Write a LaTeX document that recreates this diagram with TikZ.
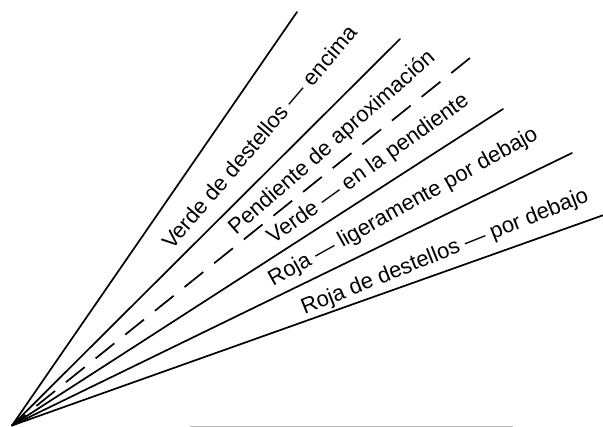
\documentclass[tikz,border=0pt]{standalone}
\usepackage{fontspec}
\setmainfont{Liberation Sans}
\begin{document}
\begin{tikzpicture}[x=1pt,y=1pt,
  ray/.style={line width=1.7pt, line cap=round},
  dashray/.style={line width=1.7pt, dash pattern=on 24pt off 14pt},
  lbl/.style={font=\fontsize{22}{26}\selectfont, inner sep=0pt, anchor=center},
  scanline/.style={line width=0.8pt, draw=gray!55}]
\useasboundingbox (0,0) rectangle (603,427);
\coordinate (O) at (12,1.5);
\coordinate (e1) at (297,415);
\coordinate (e2) at (400,388);
\coordinate (e3) at (470,369);
\coordinate (e4) at (503,318);
\coordinate (e5) at (572,274);
\coordinate (e6) at (615,216);
\coordinate (b1) at (190,0.6);
\coordinate (b2) at (513,0.6);
\draw[scanline] (b1) -- (b2);
\draw[ray] (O) -- (e1);
\draw[ray] (O) -- (e2);
\draw[dashray] (e3) -- (O);
\draw[ray] (O) -- (e4);
\draw[ray] (O) -- (e5);
\draw[ray] (O) -- (e6);
\node[lbl, rotate=49.4] (t1) at ([shift={(49.4:380)}]O) {Verde de destellos — encima};
\node[lbl, rotate=41.4] (t2) at ([shift={(41.4:427)}]O) {Pendiente de aproximación};
\node[lbl, rotate=35.7] (t3) at ([shift={(35.7:439)}]O) {Verde — en la pendiente};
\node[lbl, rotate=29.1] (t4) at ([shift={(29.1:448)}]O) {Roja — ligeramente por debajo};
\node[lbl, rotate=21.8] (t5) at ([shift={(21.8:466.5)}]O) {Roja de destellos — por debajo};
\end{tikzpicture}
\end{document}
